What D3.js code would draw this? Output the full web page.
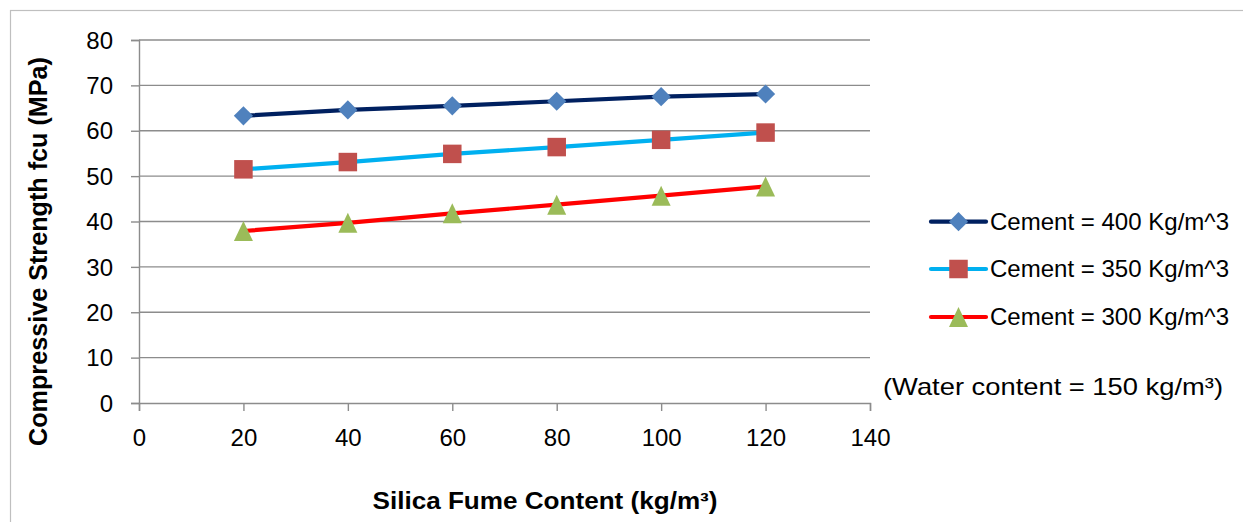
<!DOCTYPE html>
<html>
<head>
<meta charset="utf-8">
<script src="https://cdn.jsdelivr.net/npm/d3@7"></script>
<style>
  html, body { margin: 0; padding: 0; background: #fff; }
  svg { display: block; }
  text { font-family: "Liberation Sans", Arial, sans-serif; fill: #000; }
</style>
</head>
<body>
<svg id="chart" width="1243" height="522"></svg>
<script>
// ---- data ----
const silicaFume = [20, 40, 60, 80, 100, 120];
const cement400 = [63.3, 64.6, 65.5, 66.5, 67.5, 68.1];
const cement350 = [51.5, 53.1, 54.9, 56.4, 58.0, 59.6];
const cement300 = [37.9, 39.7, 41.8, 43.7, 45.7, 47.7];
const seriesNames = ["Cement = 400 Kg/m^3", "Cement = 350 Kg/m^3", "Cement = 300 Kg/m^3"];
const xTicks = [0, 20, 40, 60, 80, 100, 120, 140];
const yTicks = [0, 10, 20, 30, 40, 50, 60, 70, 80];

const series = [
  { name: seriesNames[0], values: cement400, line: "#002060", fill: "#4F81BD", shape: "diamond" },
  { name: seriesNames[1], values: cement350, line: "#00B0F0", fill: "#C0504D", shape: "square" },
  { name: seriesNames[2], values: cement300, line: "#FF0000", fill: "#9BBB59", shape: "triangle" }
];

const svg = d3.select("#chart");

// outer frame
svg.append("rect").attr("x", 10.5).attr("y", 10.5).attr("width", 1260).attr("height", 540)
  .attr("fill", "none").attr("stroke", "#bfbfbf").attr("stroke-width", 1.2);

const x = d3.scaleLinear().domain([0, 140]).range([139, 870]);
const y = d3.scaleLinear().domain([0, 80]).range([403, 40]);

// gridlines
svg.append("g").selectAll("line").data(yTicks.filter(d => d > 0)).join("line")
  .attr("x1", x(0)).attr("x2", x(140))
  .attr("y1", d => y(d)).attr("y2", d => y(d))
  .attr("stroke", "#8c8c8c").attr("stroke-width", 1.4);

// y axis
const yAxis = svg.append("g").attr("transform", `translate(${x(0)},0)`)
  .call(d3.axisLeft(y).tickValues(yTicks).tickSize(8).tickPadding(18).tickFormat(d3.format("d")));
yAxis.select(".domain").attr("stroke", "#8c8c8c").attr("stroke-width", 1.4);
yAxis.selectAll(".tick line").attr("stroke", "#8c8c8c").attr("stroke-width", 1.4);
yAxis.selectAll(".tick text").attr("font-size", 24).attr("font-family", "Liberation Sans, Arial, sans-serif")
  .attr("fill", "#000").attr("dy", "0.34em");

// x axis
const xAxis = svg.append("g").attr("transform", `translate(0,${y(0)})`)
  .call(d3.axisBottom(x).tickValues(xTicks).tickSize(8).tickPadding(18).tickFormat(d3.format("d")));
xAxis.select(".domain").attr("stroke", "#8c8c8c").attr("stroke-width", 1.4);
xAxis.selectAll(".tick line").attr("stroke", "#8c8c8c").attr("stroke-width", 1.4);
xAxis.selectAll(".tick text").attr("font-size", 24).attr("font-family", "Liberation Sans, Arial, sans-serif")
  .attr("fill", "#000").attr("dy", "0.71em");

// markers
function drawMarker(g, shape, cx, cy, fill) {
  if (shape === "diamond") {
    const r = 9.6;
    g.append("path").attr("d", `M${cx},${cy - r}L${cx + r},${cy}L${cx},${cy + r}L${cx - r},${cy}Z`).attr("fill", fill);
  } else if (shape === "square") {
    const s = 18.5;
    g.append("rect").attr("x", cx - s / 2).attr("y", cy - s / 2).attr("width", s).attr("height", s).attr("fill", fill);
  } else {
    const w = 19, h = 20;
    g.append("path").attr("d", `M${cx},${cy - h / 2}L${cx + w / 2},${cy + h / 2}L${cx - w / 2},${cy + h / 2}Z`).attr("fill", fill);
  }
}

const line = d3.line().x(d => x(d[0])).y(d => y(d[1]));
series.forEach(s => {
  const g = svg.append("g");
  const pts = silicaFume.map((xv, i) => [xv, s.values[i]]);
  g.append("path").attr("d", line(pts)).attr("fill", "none").attr("stroke", s.line)
    .attr("stroke-width", 4.2).attr("stroke-linecap", "round").attr("stroke-linejoin", "round");
  pts.forEach(p => drawMarker(g, s.shape, x(p[0]), y(p[1]), s.fill));
});

// legend
const legendY = [221.7, 269, 317];
series.forEach((s, i) => {
  const g = svg.append("g");
  g.append("line").attr("x1", 931).attr("x2", 986).attr("y1", legendY[i]).attr("y2", legendY[i])
    .attr("stroke", s.line).attr("stroke-width", 4.2).attr("stroke-linecap", "round");
  drawMarker(g, s.shape, 958.5, legendY[i], s.fill);
  g.append("text").attr("x", 990).attr("y", legendY[i]).attr("dy", "0.35em")
    .attr("font-size", 24).attr("textLength", 239).attr("lengthAdjust", "spacingAndGlyphs").text(s.name);
});

// note
svg.append("text").attr("x", 883).attr("y", 395).attr("font-size", 24)
  .attr("textLength", 340).attr("lengthAdjust", "spacingAndGlyphs")
  .text("(Water content = 150 kg/m³)");

// axis titles
svg.append("text").attr("x", 545).attr("y", 509).attr("text-anchor", "middle")
  .attr("font-size", 23).attr("font-weight", "bold")
  .attr("textLength", 345).attr("lengthAdjust", "spacingAndGlyphs")
  .text("Silica Fume Content (kg/m³)");

svg.append("text").attr("transform", "translate(47,251.5) rotate(-90)").attr("text-anchor", "middle")
  .attr("font-size", 26).attr("font-weight", "bold")
  .attr("textLength", 389).attr("lengthAdjust", "spacingAndGlyphs")
  .text("Compressive Strength fcu (MPa)");
</script>
</body>
</html>
